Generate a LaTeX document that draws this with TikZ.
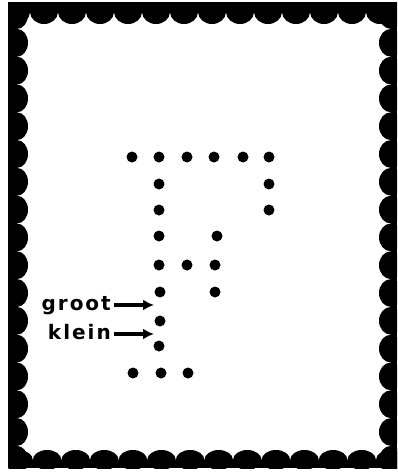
\documentclass[tikz,border=0pt]{standalone}
\usepackage{fontspec}
\usepackage{tikz}
\usetikzlibrary{positioning,arrows.meta}
\newfontfamily\handfont[LetterSpace=10]{DejaVu Sans}

\begin{document}
\begin{tikzpicture}[
  x=1pt, y=-1pt,
  dot/.style={circle, fill=black, inner sep=0pt, minimum size=11pt},
  tooth/.style={fill=black},
  lbl/.style={font=\handfont\bfseries\fontsize{20}{20}\selectfont, inner xsep=3pt, inner ysep=0pt, text height=14pt, text depth=4pt},
  arr/.style={-{Latex[length=11pt,width=11pt]}, line width=3.2pt}
]
\useasboundingbox (0,0) rectangle (397,472);

% stamp with perforation
\begin{scope}
\clip (8,2) rectangle (397,468);
\fill[black] (8,2) rectangle (397,468);
\fill[white] (17,12) rectangle (391,460);
\foreach \k in {0,...,13} {
  \fill[tooth] (16+28*\k,12) ellipse [x radius=14pt, y radius=12pt];
  \fill[tooth] (18.5+28.6*\k,460) ellipse [x radius=14.3pt, y radius=10pt];
}
\foreach \k in {0,...,16} {
  \fill[tooth] (17,15+27.8*\k) ellipse [x radius=11pt, y radius=13.9pt];
  \fill[tooth] (391,15+27.8*\k) ellipse [x radius=12pt, y radius=13.9pt];
}
\end{scope}

% perfin holes
\foreach \x/\y [count=\n] in {132/157,159/157,187/157,214/157,243/157,269/157,
    159/184,269/184,159/210,269/210,159/236,217/236,
    159/265,187/265,215/265,160/292,215/292,160/321,159/346,
    133/373,161/373,188/373}
  \node[dot] (p\n) at (\x,\y) {};

% sizes
\node[lbl, anchor=east] (groot) at (114,305) {groot};
\node[lbl, anchor=east] (klein) at (114,334) {klein};
\coordinate (tg) at (154,305);
\coordinate (tk) at (154,334);
\draw[arr] (groot) -- (tg);
\draw[arr] (klein) -- (tk);
\end{tikzpicture}
\end{document}
